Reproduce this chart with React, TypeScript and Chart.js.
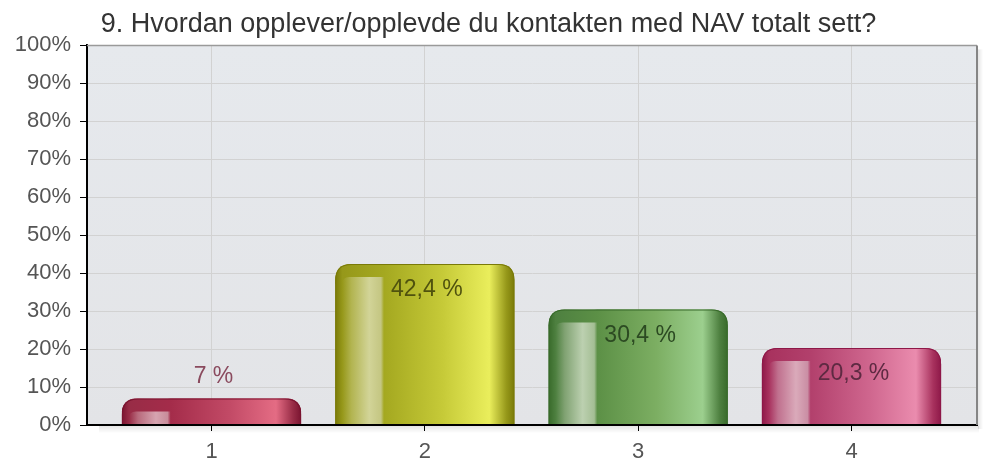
import React, { useEffect, useRef } from 'react';
import { Chart, registerables } from 'chart.js';

Chart.register(...registerables);

const TITLE = '9. Hvordan opplever/opplevde du kontakten med NAV totalt sett?';
const CATEGORIES = [1, 2, 3, 4];
const CATEGORY_LABELS = ['1', '2', '3', '4'];
const VALUES = [7, 42.4, 30.4, 20.3];
const VALUE_LABELS = ['7 %', '42,4 %', '30,4 %', '20,3 %'];
const Y_MIN = 0;
const Y_MAX = 100;
const Y_STEP = 10;

const PALETTES = [
  { dark: '#7a1430', edge: '#982c46', hiLow: '#b86a7c', hi: '#d6a4b0', hiEnd: '#c88c9a', base: '#a42c4a', mid: '#c24a66', bright: '#e46c84', text: '#8a4a5e' },
  { dark: '#7a7a08', edge: '#96981a', hiLow: '#b2b450', hi: '#d2d498', hiEnd: '#c4c682', base: '#a4a820', mid: '#c6ca38', bright: '#eaee5c', text: '#50520e' },
  { dark: '#386a2a', edge: '#4e8040', hiLow: '#80a272', hi: '#bcd0b0', hiEnd: '#a4be94', base: '#5c9046', mid: '#7cae62', bright: '#9ccf8e', text: '#2c4a22' },
  { dark: '#8e1848', edge: '#a8325e', hiLow: '#c0708e', hi: '#daaaba', hiEnd: '#ca8ea4', base: '#b2406c', mid: '#cf668e', bright: '#ea8cae', text: '#5e2a42' },
];

const FONT = 'Liberation Sans, Arial, Helvetica, sans-serif';

function makeGradient(c: CanvasRenderingContext2D, left: number, width: number, p: any, highlight: boolean) {
  const g = c.createLinearGradient(left, 0, left + width, 0);
  g.addColorStop(0, p.dark);
  g.addColorStop(0.04, p.edge);
  if (highlight) {
    g.addColorStop(0.09, p.hiLow);
    g.addColorStop(0.19, p.hi);
    g.addColorStop(0.255, p.hiEnd);
    g.addColorStop(0.272, p.base);
  } else {
    g.addColorStop(0.272, p.base);
  }
  g.addColorStop(0.6, p.mid);
  g.addColorStop(0.86, p.bright);
  g.addColorStop(0.955, p.edge);
  g.addColorStop(1, p.dark);
  return g;
}

function roundedTopPath(c: CanvasRenderingContext2D, left: number, top: number, width: number, bottom: number, r: number) {
  c.beginPath();
  c.moveTo(left, bottom);
  c.lineTo(left, top + r);
  c.quadraticCurveTo(left, top, left + r, top);
  c.lineTo(left + width - r, top);
  c.quadraticCurveTo(left + width, top, left + width, top + r);
  c.lineTo(left + width, bottom);
  c.closePath();
}

const backgroundPlugin = {
  id: 'plotBackground',
  beforeDraw(chart: any) {
    const { ctx, chartArea: a } = chart;
    if (!a) return;
    ctx.save();
    const g = ctx.createLinearGradient(0, a.top, 0, a.bottom);
    g.addColorStop(0, '#e6e9ed');
    g.addColorStop(1, '#e3e4e7');
    ctx.fillStyle = g;
    ctx.fillRect(a.left, a.top, a.right - a.left, a.bottom - a.top);
    ctx.restore();
  },
  afterDraw(chart: any) {
    const { ctx, chartArea: a } = chart;
    if (!a) return;
    ctx.save();
    const sg = ctx.createLinearGradient(0, a.bottom + 1, 0, a.bottom + 8);
    sg.addColorStop(0, 'rgba(0,0,0,0.10)');
    sg.addColorStop(1, 'rgba(0,0,0,0)');
    ctx.fillStyle = sg;
    ctx.fillRect(a.left + 12, a.bottom + 1, a.right - a.left - 10, 7);
    const rg = ctx.createLinearGradient(a.right + 1, 0, a.right + 6, 0);
    rg.addColorStop(0, 'rgba(0,0,0,0.10)');
    rg.addColorStop(1, 'rgba(0,0,0,0)');
    ctx.fillStyle = rg;
    ctx.fillRect(a.right + 1, a.top + 4, 5, a.bottom - a.top);
    ctx.strokeStyle = '#9a9a9a';
    ctx.lineWidth = 1.5;
    ctx.beginPath();
    ctx.moveTo(a.left, a.top);
    ctx.lineTo(a.right, a.top);
    ctx.stroke();
    ctx.strokeStyle = '#858585';
    ctx.lineWidth = 2;
    ctx.beginPath();
    ctx.moveTo(a.right, a.top);
    ctx.lineTo(a.right, a.bottom);
    ctx.stroke();
    ctx.restore();
  },
};

const capAndLabelPlugin = {
  id: 'capAndLabels',
  afterDatasetsDraw(chart: any) {
    const { ctx } = chart;
    const meta = chart.getDatasetMeta(0);
    ctx.save();
    meta.data.forEach((el: any, i: number) => {
      const p = PALETTES[i];
      const { x, y, base, width } = el.getProps(['x', 'y', 'base', 'width'], true);
      const left = x - width / 2;
      ctx.save();
      roundedTopPath(ctx, left, y, width, base, 16);
      ctx.clip();
      // cap band without highlight, with a rounded lower-left join to the highlight stripe
      const band = Math.min(13, base - y);
      ctx.fillStyle = makeGradient(ctx, left, width, p, false);
      ctx.beginPath();
      ctx.moveTo(left, y);
      ctx.lineTo(left + width, y);
      ctx.lineTo(left + width, y + band);
      ctx.lineTo(left + width * 0.3, y + band);
      ctx.lineTo(left + width * 0.3, y + band);
      ctx.lineTo(left + 14, y + band);
      ctx.quadraticCurveTo(left + 7, y + band, left + 7, y + band + 7);
      ctx.lineTo(left, y + band + 7);
      ctx.closePath();
      ctx.fill();
      ctx.strokeStyle = p.dark;
      ctx.lineWidth = 2;
      roundedTopPath(ctx, left, y, width, base + 4, 16);
      ctx.stroke();
      ctx.restore();
      ctx.fillStyle = p.text;
      ctx.font = `23px ${FONT}`;
      ctx.textAlign = 'center';
      ctx.textBaseline = 'middle';
      const ly = VALUES[i] < 10 ? y - 22 : y + 26;
      ctx.fillText(VALUE_LABELS[i], x + 2, ly);
    });
    ctx.restore();
  },
};

export default function App() {
  const canvasRef = useRef<HTMLCanvasElement | null>(null);

  useEffect(() => {
    document.body.style.margin = '0';
    const canvas = canvasRef.current;
    if (!canvas) return;
    const chart = new Chart(canvas, {
      type: 'bar',
      data: {
        labels: CATEGORIES,
        datasets: [
          {
            data: VALUES,
            backgroundColor: (ctx: any) => {
              const chartObj = ctx.chart;
              const xs = chartObj.scales?.x;
              const p = PALETTES[ctx.dataIndex % PALETTES.length];
              if (!xs || !chartObj.chartArea) return p.mid;
              const cx = xs.getPixelForValue(CATEGORIES[ctx.dataIndex]);
              const unit = xs.getPixelForValue(2) - xs.getPixelForValue(1);
              const w = unit * 0.84;
              return makeGradient(chartObj.ctx, cx - w / 2, w, p, true);
            },
            borderWidth: 0,
            borderRadius: { topLeft: 16, topRight: 16, bottomLeft: 0, bottomRight: 0 },
            borderSkipped: false,
            categoryPercentage: 1,
            barPercentage: 0.84,
          } as any,
        ],
      },
      options: {
        responsive: false,
        animation: false,
        events: [],
        layout: { padding: { left: 0, right: 6, top: 0, bottom: 0 } },
        plugins: {
          legend: { display: false },
          tooltip: { enabled: false },
          title: {
            display: true,
            text: TITLE,
            color: '#333333',
            font: { family: FONT, size: 27, weight: 'normal' },
            padding: { top: 8, bottom: 5 },
          },
        },
        scales: {
          x: {
            type: 'linear',
            offset: false,
            min: 0.4164,
            max: 4.5883,
            afterBuildTicks: (s: any) => {
              s.ticks = CATEGORIES.map((v) => ({ value: v }));
            },
            afterFit: (s: any) => {
              s.height = 40;
            },
            ticks: {
              callback: (v: any) => {
                const idx = CATEGORIES.indexOf(Number(v));
                return idx >= 0 ? CATEGORY_LABELS[idx] : '';
              },
              color: '#555555',
              font: { family: FONT, size: 22 },
              padding: 8,
              maxRotation: 0,
            },
            grid: { offset: false, color: '#d2d2d2', lineWidth: 1, tickColor: '#000000', tickLength: 6 },
            border: { display: true, color: '#000000', width: 2, z: 1 },
          },
          y: {
            min: Y_MIN,
            max: Y_MAX,
            afterFit: (s: any) => {
              s.width = 87;
            },
            ticks: {
              stepSize: Y_STEP,
              callback: (v: any) => `${v}%`,
              color: '#555555',
              font: { family: FONT, size: 22 },
              padding: 9,
            },
            grid: { color: '#d2d2d2', lineWidth: 1, tickColor: '#000000', tickLength: 7 },
            border: { display: true, color: '#000000', width: 2, z: 1 },
          },
        },
      },
      plugins: [backgroundPlugin, capAndLabelPlugin],
    } as any);
    return () => chart.destroy();
  }, []);

  return (
    <div style={{ width: 983, height: 465 }}>
      <canvas ref={canvasRef} width={983} height={465} style={{ display: 'block' }} />
    </div>
  );
}
